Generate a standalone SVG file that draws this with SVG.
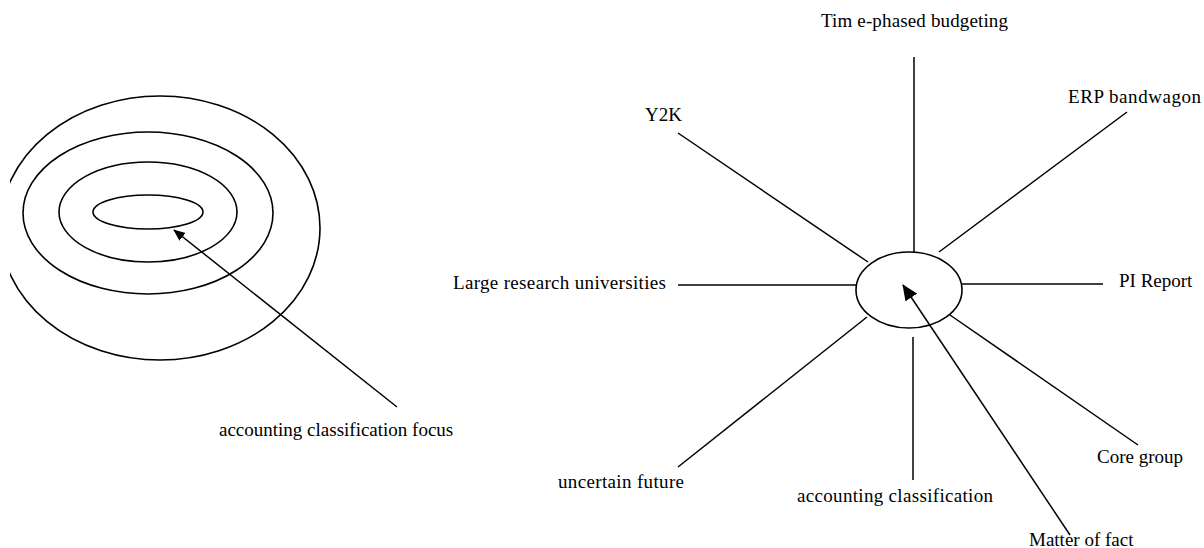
<svg xmlns="http://www.w3.org/2000/svg" width="1204" height="548" viewBox="0 0 1204 548">
<style>
text{font-family:"Liberation Serif","Times New Roman",serif;font-size:19px;fill:#000}
.ln{stroke:#000;stroke-width:1.5;fill:none}
.ring{stroke:#000;stroke-width:1.6;fill:none}
</style>
<defs>
<clipPath id="clipL"><rect x="10" y="0" width="400" height="548"/></clipPath>
<marker id="ahS" markerUnits="userSpaceOnUse" markerWidth="12" markerHeight="12" viewBox="0 0 12 12" refX="11" refY="6" orient="auto"><path d="M0,1 L12,6 L0,11 Z" fill="#000"/></marker>
<marker id="ahL" markerUnits="userSpaceOnUse" markerWidth="16" markerHeight="14" viewBox="0 0 16 14" refX="15" refY="7" orient="auto"><path d="M0,0 L16,7 L0,14 Z" fill="#000"/></marker>
</defs>
<rect width="1204" height="548" fill="#fff"/>
<g id="target">
<ellipse class="ring" cx="160" cy="228" rx="160" ry="132" clip-path="url(#clipL)"/>
<ellipse class="ring" cx="148" cy="213" rx="125" ry="81"/>
<ellipse class="ring" cx="148" cy="212" rx="89" ry="50"/>
<ellipse class="ring" cx="148" cy="212" rx="55" ry="17"/>
</g>
<g id="focus-label"><text x="219" y="436">accounting classification focus</text></g>
<g id="hub"><ellipse class="ring" cx="909" cy="290" rx="53" ry="38"/></g>
<g id="n-time"><text x="821" y="27" textLength="187">Tim e-phased budgeting</text></g>
<g id="n-erp"><text x="1068" y="103" textLength="133">ERP bandwagon</text></g>
<g id="n-y2k"><text x="645" y="121">Y2K</text></g>
<g id="n-large"><text x="453" y="289" textLength="213">Large research universities</text></g>
<g id="n-pi"><text x="1119" y="287">PI Report</text></g>
<g id="n-core"><text x="1097" y="463">Core group</text></g>
<g id="n-uncertain"><text x="558" y="488" textLength="126">uncertain future</text></g>
<g id="n-acct"><text x="797" y="502" textLength="196">accounting classification</text></g>
<g id="n-matter"><text x="1029" y="546">Matter of fact</text></g>
<g id="connectors">
<line class="ln" x1="397" y1="407" x2="174" y2="230" stroke-width="1.3" marker-end="url(#ahS)"/>
<line class="ln" x1="914" y1="57" x2="914" y2="252"/>
<line class="ln" x1="678" y1="133" x2="868" y2="262"/>
<line class="ln" x1="1127" y1="112" x2="939" y2="252"/>
<line class="ln" x1="678" y1="285" x2="856" y2="285"/>
<line class="ln" x1="962" y1="284" x2="1103" y2="284"/>
<line class="ln" x1="678" y1="467" x2="867" y2="317"/>
<line class="ln" x1="950" y1="315" x2="1138" y2="445"/>
<line class="ln" x1="913" y1="337" x2="913" y2="480"/>
<line class="ln" x1="1070" y1="535" x2="903" y2="285" stroke-width="3" marker-end="url(#ahL)"/>
</g>
</svg>
